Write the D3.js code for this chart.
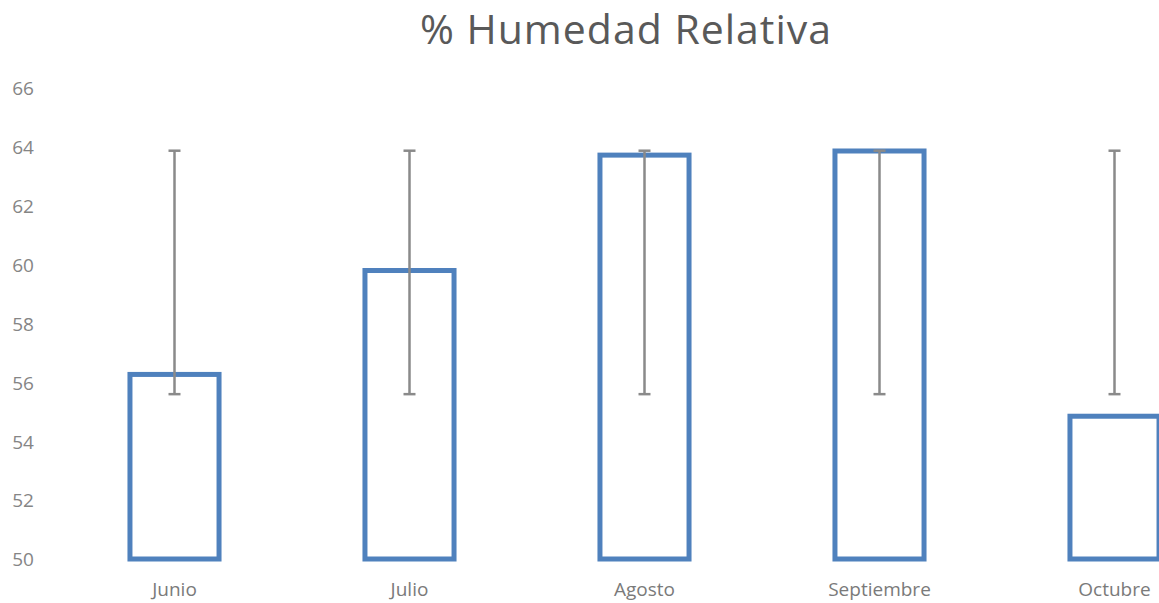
<!DOCTYPE html>
<html><head><meta charset="utf-8">
<script src="https://cdn.jsdelivr.net/npm/d3@7"></script>
<style>body{margin:0;background:#fff;overflow:hidden}</style>
</head><body>
<svg id="c" width="1159" height="603"></svg>
<script>
const categories = ["Junio","Julio","Agosto","Septiembre","Octubre"];
const values = [56.27, 59.8, 63.72, 63.86, 54.85];
const errLow = [55.6, 55.6, 55.6, 55.6, 55.6];
const errHigh = [63.87, 63.87, 63.87, 63.87, 63.87];
const yTicks = [50,52,54,56,58,60,62,64,66];
const title = "% Humedad Relativa";

const svg = d3.select("#c");
const x = d3.scaleBand().domain(categories).range([57,1232]).paddingInner(0.621).paddingOuter(0.3105);
const y = d3.scaleLinear().domain([50,66]).range([559,88]);
const font = "'Open Sans', 'Noto Sans', sans-serif";

svg.append("text").attr("x",626).attr("y",44).attr("text-anchor","middle")
  .attr("font-family",font).attr("font-size",41).attr("letter-spacing","1").attr("fill","#595959").text(title);

const yAxis = svg.append("g").attr("transform","translate(23,0)")
  .call(d3.axisLeft(y).tickValues(yTicks).tickSize(0).tickPadding(0));
yAxis.select(".domain").remove();
yAxis.selectAll("text").attr("font-family",font).attr("font-size",19).attr("fill","#858585")
  .attr("text-anchor","middle").attr("x",0).attr("dy","0.36em");

const xAxis = svg.append("g").attr("transform","translate(0,596)")
  .call(d3.axisBottom(x).tickSize(0).tickPadding(0));
xAxis.select(".domain").remove();
xAxis.selectAll("text").attr("font-family",font).attr("font-size",19).attr("fill","#7a7a7a").attr("y",0).attr("dy","0");

svg.append("g").selectAll("rect").data(categories).join("rect")
  .attr("x",d=>x(d)).attr("width",x.bandwidth())
  .attr("y",(d,i)=>y(values[i])).attr("height",(d,i)=>y(50)-y(values[i]))
  .attr("fill","none").attr("stroke","#4f81bd").attr("stroke-width",5);

const eb = svg.append("g").attr("stroke","#8a8a8a").attr("stroke-width",2.5);
categories.forEach((c,i)=>{
  const cx = x(c)+x.bandwidth()/2;
  eb.append("line").attr("x1",cx).attr("x2",cx).attr("y1",y(errLow[i])).attr("y2",y(errHigh[i]));
  eb.append("line").attr("x1",cx-6).attr("x2",cx+6).attr("y1",y(errLow[i])).attr("y2",y(errLow[i]));
  eb.append("line").attr("x1",cx-6).attr("x2",cx+6).attr("y1",y(errHigh[i])).attr("y2",y(errHigh[i]));
});
</script>
</body></html>
